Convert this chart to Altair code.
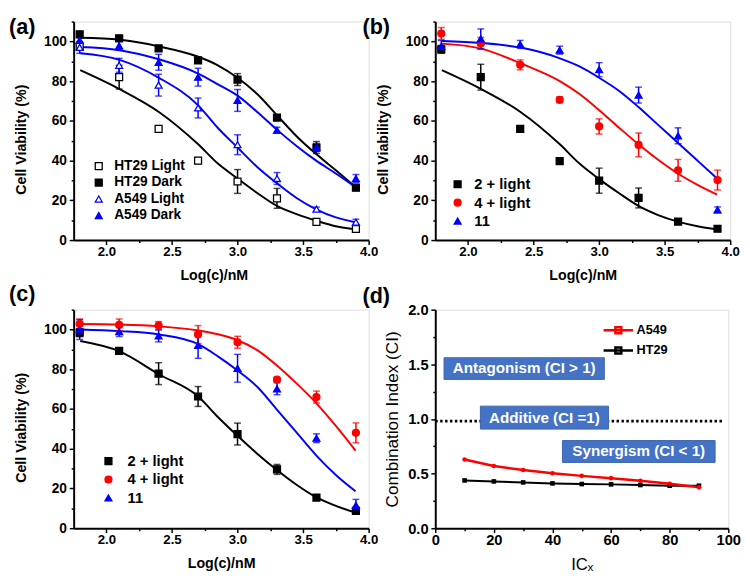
import altair as alt
import pandas as pd

FONT = "Liberation Sans"

# ---------------- shared positions ----------------
LOG_C = [1.796, 2.097, 2.398, 2.699, 3.0, 3.301, 3.602, 3.903]
FIT_X = [1.8, 2.1, 2.4, 2.7, 2.85, 3.0, 3.15, 3.3, 3.45, 3.6, 3.75, 3.9]
X_TICKS = [2.0, 2.25, 2.5, 2.75, 3.0, 3.25, 3.5, 3.75, 4.0]
Y_TICKS = [0, 10, 20, 30, 40, 50, 60, 70, 80, 90, 100, 110]

# ---------------- panel (a) ----------------
A_NAMES = ["HT29 Light", "HT29 Dark", "A549 Light", "A549 Dark"]
A_HT29_LIGHT = [97.5, 82, 56, 40, 29.5, 21, 9.2, 5.6]
A_HT29_LIGHT_ERR = [1.5, 6, 1, 1.5, 6, 5, 1, 1]
A_HT29_DARK = [103.5, 101.6, 96.5, 90.5, 80.8, 61.6, 46.6, 26.4]
A_HT29_DARK_ERR = [1.5, 1, 1, 1, 3, 1, 3, 1.5]
A_A549_LIGHT = [97, 88, 78, 66.5, 48, 31, 15.6, 9]
A_A549_LIGHT_ERR = [3, 3.5, 5.5, 5, 5, 3, 1, 1.5]
A_A549_DARK = [100.5, 97.8, 89.5, 82, 70.3, 55.3, 46.6, 31]
A_A549_DARK_ERR = [2, 2, 4, 4.5, 5.5, 1.5, 2, 2]
A_FIT_HT29_LIGHT = [85.5, 76, 64.5, 48.2, 38.5, 31, 23.7, 17.2, 13.1, 9.8, 7, 5.4]
A_FIT_HT29_DARK = [101.8, 100.8, 97.5, 92.3, 88, 81.7, 73.5, 62.9, 52.3, 43.3, 35.1, 26.6]
A_FIT_A549_LIGHT = [94, 90.7, 81.7, 67.8, 56.4, 46.6, 36.8, 28.6, 21.2, 15.5, 11.4, 9]
A_FIT_A549_DARK = [97.2, 95.6, 91, 83.8, 78.4, 72.7, 64.5, 55.6, 47.4, 40, 33.5, 26.6]

# ---------------- panel (b) ----------------
B_NAMES = ["2 + light", "4 + light", "11"]
B_2 = [96, 82, 56, 39.7, 29.9, 21.2, 9.3, 5.7]
B_2_ERR = [2, 6.5, 1, 1.5, 6.3, 5, 1, 1]
B_4 = [104, 99, 88.2, 70.6, 57.2, 47.9, 35.1, 30.2]
B_4_ERR = [3, 3, 2.5, 1.5, 3.8, 6, 5.5, 5]
B_11 = [97.5, 101.3, 98.5, 95.6, 85.8, 73, 52.5, 15.2]
B_11_ERR = [3, 5, 2, 2, 3.5, 4, 4, 1.5]
B_FIT_2 = [85.5, 76, 64.5, 48.2, 38.5, 30.7, 23.7, 17.2, 12.6, 9.3, 7, 5.4]
B_FIT_4 = [98.9, 96.4, 89, 80, 73.5, 65.4, 56.7, 48.2, 40.4, 33.5, 27.8, 22.9]
B_FIT_11 = [100.2, 99.2, 96.9, 91.5, 87.4, 81.7, 75.2, 67, 58, 49, 40, 31]

# ---------------- panel (c) ----------------
C_NAMES = ["2 + light", "4 + light", "11"]
C_2 = [98.4, 89.3, 77.8, 66.3, 47.4, 29.6, 15.4, 8.7]
C_2_ERR = [2, 1.5, 5.5, 5, 5.5, 2.5, 1, 1.5]
C_4 = [102.8, 102.3, 102, 97.5, 93.6, 74.8, 66, 48]
C_4_ERR = [2.5, 3, 2, 4.5, 3, 1, 3, 5]
C_11 = [100, 99, 96.8, 92, 80.5, 70.2, 45.3, 11.5]
C_11_ERR = [5, 2.5, 3, 6.5, 7, 3, 2.2, 3]
C_FIT_2 = [94.2, 89, 77.5, 66.3, 56, 46.5, 37.5, 29.3, 21.9, 15.6, 11.2, 7.9]
C_FIT_4 = [102.8, 102.5, 101.6, 99.5, 97.6, 94.6, 89.6, 81.9, 72.9, 63, 51.5, 39.1]
C_FIT_11 = [100, 99.2, 97.5, 92.6, 86.5, 79.4, 71.2, 59.7, 48.2, 36.7, 26.8, 18.6]

# ---------------- panel (d) ----------------
D_NAMES = ["A549", "HT29"]
IC_X = [10, 20, 30, 40, 50, 60, 70, 80, 90]
CI_A549 = [0.629, 0.569, 0.533, 0.503, 0.479, 0.458, 0.434, 0.407, 0.374]
CI_HT29 = [0.437, 0.428, 0.419, 0.410, 0.404, 0.401, 0.395, 0.389, 0.389]
ADDITIVE_LINE = [0, 98, 0.98]  # x from, x to, CI level of dotted line
BOX_LABELS = ["Antagonism (CI > 1)", "Additive (CI =1)", "Synergism (CI < 1)"]
BOX_X0 = [3, 15.4, 43.4]
BOX_X1 = [57.7, 59.1, 95.5]
BOX_Y0 = [1.362, 0.907, 0.602]
BOX_Y1 = [1.56, 1.117, 0.802]
D_X_TICKS = [0, 10, 20, 30, 40, 50, 60, 70, 80, 90, 100]
D_Y_TICKS = [0, 0.25, 0.5, 0.75, 1.0, 1.25, 1.5, 1.75, 2.0]

LETTERS = ["(a)", "(b)", "(c)", "(d)"]

BLACK, RED, BLUE, WHITE = "#000000", "#FF0000", "#0000FF", "#FFFFFF"


def axis(title, values, major_test, fmt, label_size, title_size, title_weight,
         label_pad, title_pad, **kw):
    return alt.Axis(
        title=title, values=values, grid=False,
        labelExpr=f"({major_test}) ? format(datum.value, '{fmt}') : ''",
        tickSize={"condition": {"test": f"!({major_test})", "value": 2.5}, "value": 4.5},
        tickWidth=1.5, tickColor=BLACK, domainColor=BLACK, domainWidth=2,
        labelFont=FONT, labelFontSize=label_size, labelFontWeight="bold",
        labelColor=BLACK, labelPadding=label_pad, labelFlush=False,
        labelOverlap=False,
        titleFont=FONT, titleFontSize=title_size, titleFontWeight=title_weight,
        titleColor=BLACK, titlePadding=title_pad, **kw)


def legend(lx, ly, size, row_pad, label_offset, **kw):
    return alt.Legend(orient="none", legendX=lx, legendY=ly, title=None,
                      direction="vertical", labelFont=FONT, labelFontSize=size,
                      labelFontWeight="bold", labelColor=BLACK, rowPadding=row_pad,
                      labelOffset=label_offset, padding=0, labelLimit=300, **kw)


def letter_layer(letter, dx, dy):
    return alt.Chart(pd.DataFrame({"t": [letter]})).mark_text(
        font=FONT, fontSize=22, fontWeight="bold", align="left", baseline="top",
        color=BLACK).encode(text="t:N", x=alt.value(dx), y=alt.value(dy))


def dose_panel(letter, names, strokes, fills, shapes, means, errs, fits,
               leg, letter_dx, letter_dy, xtitle_x=None):
    prow = []
    for n, c, m, e in zip(names, strokes, means, errs):
        for x, v, d in zip(LOG_C, m, e):
            prow.append({"series": n, "clr": c, "x": x, "mean": v,
                         "lo": v - d, "hi": v + d})
    pts = pd.DataFrame(prow)
    frow = []
    for n, c, f in zip(names, strokes, fits):
        for x, y in zip(FIT_X, f):
            frow.append({"series": n, "clr": c, "x": x, "y": y})
    fit = pd.DataFrame(frow)

    xs = alt.Scale(domain=[1.75, 4.0], nice=False, zero=False)
    ys = alt.Scale(domain=[0, 110], nice=False)
    xkw = {} if xtitle_x is None else {"titleX": xtitle_x}
    xa = axis("Log(c)/nM", X_TICKS, "datum.value % 0.5 == 0", ".1f", 13.5, 14.5,
              "bold", 0, 11, **xkw)
    ya = axis("Cell Viability (%)", Y_TICKS,
              "datum.value % 20 == 0 && datum.value <= 100", "d", 14, 14.5,
              "bold", 2.8, 15, titleY=120)
    col = alt.Color("clr:N", scale=None)

    def X(f):
        return alt.X(f"{f}:Q", scale=xs, axis=xa)

    def Y(f):
        return alt.Y(f"{f}:Q", scale=ys, axis=ya)

    lines = alt.Chart(fit).mark_line(strokeWidth=2, interpolate="monotone").encode(
        x=X("x"), y=Y("y"), color=col, detail="series:N")
    bars = alt.Chart(pts).mark_rule(strokeWidth=1.5).encode(
        x=X("x"), y=Y("lo"), y2="hi:Q", color=col)
    cap_lo = alt.Chart(pts).mark_tick(orient="horizontal", size=7, thickness=1.5).encode(
        x=X("x"), y=Y("lo"), color=col)
    cap_hi = alt.Chart(pts).mark_tick(orient="horizontal", size=7, thickness=1.5).encode(
        x=X("x"), y=Y("hi"), color=col)
    marks = alt.Chart(pts).mark_point(filled=True, size=50, strokeWidth=1.3,
                                      opacity=1).encode(
        x=X("x"), y=Y("mean"),
        fill=alt.Fill("series:N", scale=alt.Scale(domain=names, range=fills), legend=leg),
        stroke=alt.Stroke("series:N", scale=alt.Scale(domain=names, range=strokes), legend=leg),
        shape=alt.Shape("series:N", scale=alt.Scale(domain=names, range=shapes), legend=leg),
    )
    return alt.layer(lines, bars, cap_lo, cap_hi, marks,
                     letter_layer(letter, letter_dx, letter_dy)).properties(
        width=301, height=223)


pa = dose_panel(
    LETTERS[0], A_NAMES, [BLACK, BLACK, BLUE, BLUE],
    [WHITE, BLACK, WHITE, BLUE],
    ["square", "square", "triangle-up", "triangle-up"],
    [A_HT29_LIGHT, A_HT29_DARK, A_A549_LIGHT, A_A549_DARK],
    [A_HT29_LIGHT_ERR, A_HT29_DARK_ERR, A_A549_LIGHT_ERR, A_A549_DARK_ERR],
    [A_FIT_HT29_LIGHT, A_FIT_HT29_DARK, A_FIT_A549_LIGHT, A_FIT_A549_DARK],
    legend(18.6, 140.5, 14, 2.8, 8.7, symbolSize=50, symbolStrokeWidth=1.3),
    -66, -4.7, xtitle_x=143)

pb = dose_panel(
    LETTERS[1], B_NAMES, [BLACK, RED, BLUE], [BLACK, RED, BLUE],
    ["square", "circle", "triangle-up"],
    [B_2, B_4, B_11], [B_2_ERR, B_4_ERR, B_11_ERR],
    [B_FIT_2, B_FIT_4, B_FIT_11],
    legend(15.3, 158.5, 15, 2.8, 9.6, symbolSize=50, symbolStrokeWidth=1.3),
    -74.3, -4.7)

pc = dose_panel(
    LETTERS[2], C_NAMES, [BLACK, RED, BLUE], [BLACK, RED, BLUE],
    ["square", "circle", "triangle-up"],
    [C_2, C_4, C_11], [C_2_ERR, C_4_ERR, C_11_ERR],
    [C_FIT_2, C_FIT_4, C_FIT_11],
    legend(28, 147, 15, 2.8, 12, symbolSize=50, symbolStrokeWidth=1.3),
    -66, -25.7)

# ---------------- panel (d) build ----------------
D_CLR = {"A549": RED, "HT29": BLACK}
D_SHP = {"A549": "circle", "HT29": "square"}
ci = pd.DataFrame(
    [{"series": "HT29", "x": x, "ci": v} for x, v in zip(IC_X, CI_HT29)]
    + [{"series": "A549", "x": x, "ci": v} for x, v in zip(IC_X, CI_A549)])
ci["clr"] = ci["series"].map(D_CLR)
ci["shp"] = ci["series"].map(D_SHP)
boxes = pd.DataFrame({"label": BOX_LABELS, "x0": BOX_X0, "x1": BOX_X1,
                      "y0": BOX_Y0, "y1": BOX_Y1})
boxes["xm"] = (boxes["x0"] + boxes["x1"]) / 2
boxes["ym"] = (boxes["y0"] + boxes["y1"]) / 2
addl = pd.DataFrame({"x0": [ADDITIVE_LINE[0]], "x1": [ADDITIVE_LINE[1]],
                     "y": [ADDITIVE_LINE[2]]})

dxs = alt.Scale(domain=[0, 100], nice=False)
dys = alt.Scale(domain=[0, 2], nice=False)
dxa = axis("ICₓ", D_X_TICKS, "datum.value % 20 == 0", "d", 15, 17, "normal", 0, 10)
dya = axis("Combination Index (CI)", D_Y_TICKS, "datum.value % 0.5 == 0", ".1f",
           15, 17.5, "normal", 2.8, 6.5)


def DX(f):
    return alt.X(f"{f}:Q", scale=dxs, axis=dxa)


def DY(f):
    return alt.Y(f"{f}:Q", scale=dys, axis=dya)


dcol_scale = alt.Scale(domain=D_NAMES, range=[RED, BLACK])
d_leg = legend(179.3, 13.5, 13, 3.7, 11, symbolSize=144, symbolStrokeWidth=2.5,
               symbolType="M-2.5,0H2.5M-0.5,-0.5H0.5V0.5H-0.5Z")

dotted = alt.Chart(addl).mark_rule(strokeDash=[2.5, 2.5], strokeWidth=3,
                                   color=BLACK).encode(x=DX("x0"), x2="x1:Q", y=DY("y"))
rects = alt.Chart(boxes).mark_rect(fill="#4472C4", stroke="#3B64AD",
                                   strokeWidth=1).encode(
    x=DX("x0"), x2="x1:Q", y=DY("y0"), y2="y1:Q")
rtext = alt.Chart(boxes).mark_text(font=FONT, fontSize=15.5, fontWeight="bold",
                                   color="white").encode(
    x=DX("xm"), y=DY("ym"), text="label:N")
dline_ht = alt.Chart(ci).transform_filter("datum.series == 'HT29'").mark_line(
    strokeWidth=2).encode(
    x=DX("x"), y=DY("ci"),
    color=alt.Color("series:N", scale=dcol_scale, legend=d_leg))
dline_a = alt.Chart(ci).transform_filter("datum.series == 'A549'").mark_line(
    strokeWidth=2.5).encode(
    x=DX("x"), y=DY("ci"),
    color=alt.Color("series:N", scale=dcol_scale, legend=d_leg))
dpts = alt.Chart(ci).mark_point(filled=True, size=22, opacity=1).encode(
    x=DX("x"), y=DY("ci"),
    fill=alt.Fill("clr:N", scale=None),
    shape=alt.Shape("shp:N", scale=None))
pd_ = alt.layer(dotted, rects, rtext, dline_ht, dline_a, dpts,
                letter_layer(LETTERS[3], -74.3, -23.5)).properties(width=299, height=223)

chart = alt.concat(pa, pb, pc, pd_, columns=2, spacing={"row": 71, "column": 68},
                   bounds="flush").resolve_scale(
    color="independent", fill="independent", stroke="independent",
    shape="independent").resolve_legend(
    color="independent", fill="independent", stroke="independent",
    shape="independent").properties(padding=0).configure_view(
    strokeWidth=0).configure(font=FONT)

chart.save("out.html", embed_options={"renderer": "svg", "actions": False})
